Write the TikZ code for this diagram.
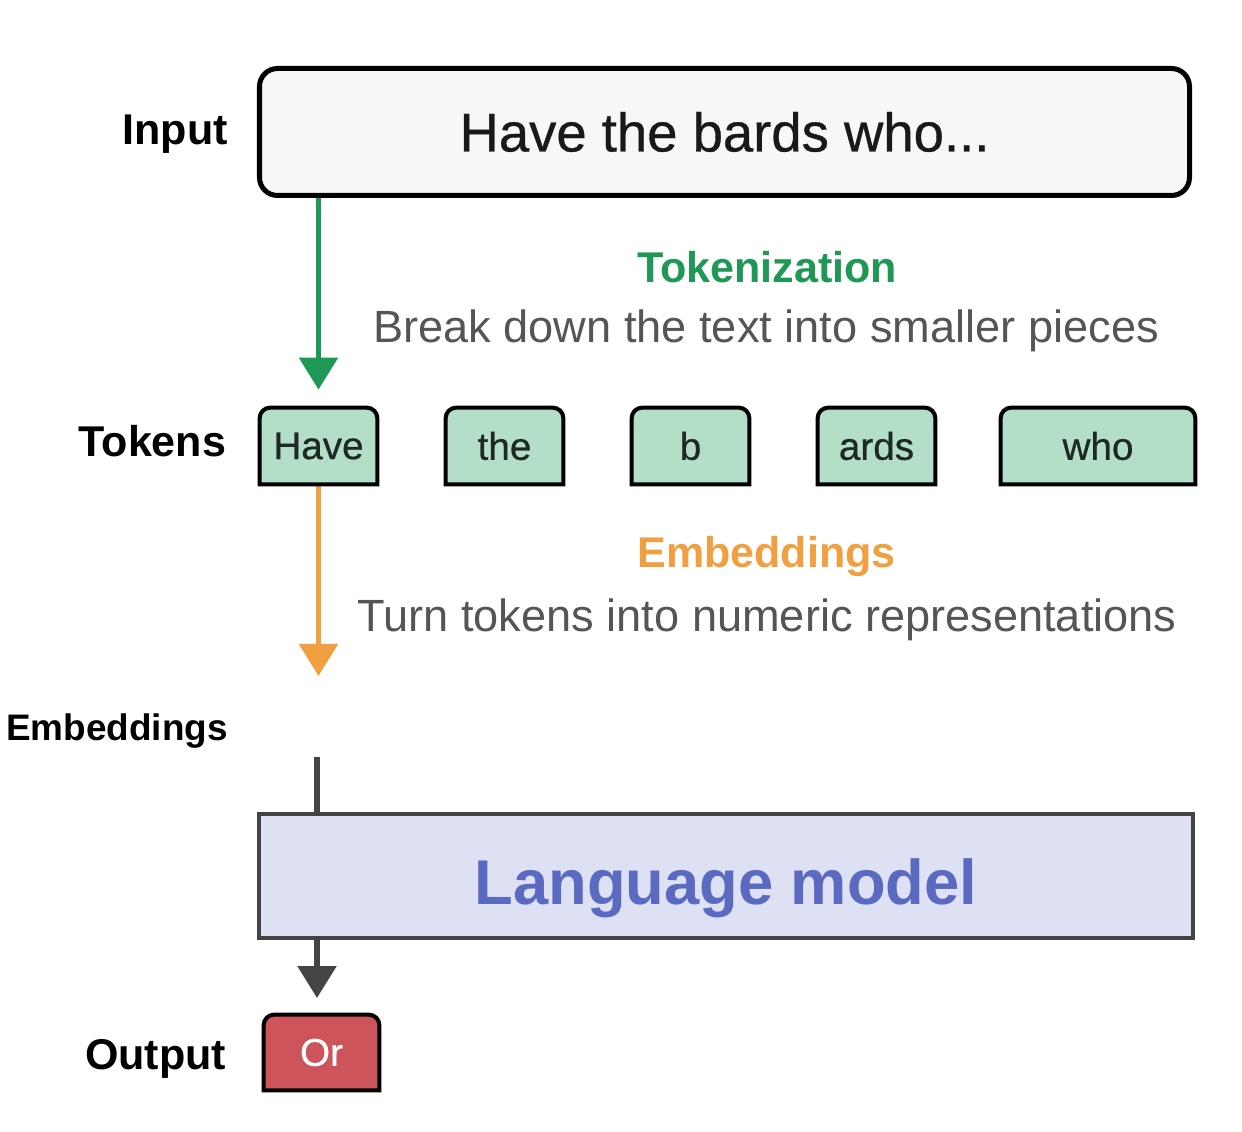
\documentclass[tikz,border=0pt]{standalone}
\usepackage{fontspec}
\setmainfont{Liberation Sans}
\newfontfamily\mediumfont[FakeBold=0.6]{Liberation Sans}
\usepackage{tikz}
\usetikzlibrary{arrows.meta, positioning, backgrounds}
\definecolor{inputcolor}{RGB}{247, 247, 247}
\definecolor{tokencolor}{RGB}{179, 223, 200}
\definecolor{outputcolor}{RGB}{204, 84, 90}
\definecolor{modelcolor}{RGB}{222, 224, 243}
\definecolor{modeltext}{RGB}{90, 106, 192}
\definecolor{tokgreen}{RGB}{30, 152, 84}
\definecolor{embedorange}{RGB}{240, 160, 64}
\definecolor{darkline}{RGB}{68, 68, 68}
\definecolor{notegray}{RGB}{85, 85, 85}
\definecolor{tokentext}{RGB}{30, 40, 36}

\begin{document}
\begin{tikzpicture}[
    stage/.style={anchor=base east, inner sep=0pt, font=\fontsize{24.5}{28}\selectfont\bfseries},
    heading/.style={anchor=base, font=\fontsize{24.5}{28}\selectfont\bfseries},
    note/.style={anchor=base, text=notegray, font=\fontsize{25.7}{30}\selectfont},
    token/.style={minimum width=2.34cm, minimum height=1.52cm, inner sep=0pt, text=tokentext, font=\fontsize{22}{26}\selectfont\mediumfont},
    tokenline/.style={draw=black, line width=2.3pt},
    flow/.style={line width=3.2pt, -{Triangle[width=0.76cm, length=0.64cm]}},
]
    \useasboundingbox (0,0) rectangle (24.84,-22.64);

    % Input
    \node[draw, line width=2.85pt, rounded corners=0.36cm, fill=inputcolor, minimum width=18.6cm, minimum height=2.54cm, text=black!90, font=\fontsize{31}{36}\selectfont\mediumfont] (input) at (14.49, -2.64) {Have the bards who...};
    \node[stage] (inputlabel) at (4.56, -2.90) {Input};

    % Tokenization
    \node[heading, text=tokgreen] (tokname) at (15.34, -5.66) {Tokenization};
    \node[note] (tokdesc) at (15.32, -6.86) {Break down the text into smaller pieces};

    % Tokens
    \node[stage] (tokenslabel) at (4.53, -9.14) {Tokens};
    \node[token] (have) at (6.37, -8.92) {Have};
    \node[token] (the) at (10.09, -8.92) {the};
    \node[token] (b) at (13.81, -8.92) {b};
    \node[token] (ards) at (17.53, -8.92) {ards};
    \node[token, minimum width=3.88cm] (who) at (21.96, -8.92) {who};

    % Embeddings
    \node[heading, text=embedorange] (embname) at (15.33, -11.36) {Embeddings};
    \node[note] (embdesc) at (15.34, -12.64) {Turn tokens into numeric representations};
    \node[stage, font=\fontsize{21}{24}\selectfont\bfseries] (emblabel) at (4.56, -14.80) {Embeddings};
    \coordinate (embtip) at (6.37, -13.52);
    \coordinate (embout) at (6.34, -15.14);

    % Language model
    \node[draw=darkline, line width=2.3pt, fill=modelcolor, minimum width=18.68cm, minimum height=2.48cm, text height=33pt, text depth=0pt, text=modeltext, font=\fontsize{36}{40}\selectfont\bfseries] (lm) at (14.52, -17.52) {Language model};
    \coordinate (outtip) at (6.34, -19.96);

    % Output
    \node[stage] (outlabel) at (4.53, -21.39) {Output};
    \node[token, minimum width=2.3cm, minimum height=1.5cm, text=white] (out) at (6.43, -21.05) {Or};

    % Arrows and boxes
    \begin{scope}[on background layer]
        \draw[flow, tokgreen] (input.south -| have.north) -- ([yshift=0.36cm]have.north);
        \draw[flow, embedorange] (have.south) -- (embtip);
        \draw[line width=3.2pt, darkline] (embout) -- (embout |- lm.north);
        \draw[flow, darkline] (lm.south -| outtip) -- (outtip);
        \foreach \n/\c in {have/tokencolor, the/tokencolor, b/tokencolor, ards/tokencolor, who/tokencolor, out/outputcolor}
            \draw[tokenline, fill=\c] (\n.south west) [rounded corners=6pt] -- (\n.north west) -- (\n.north east) [sharp corners] -- (\n.south east) -- cycle;
    \end{scope}
\end{tikzpicture}
\end{document}
